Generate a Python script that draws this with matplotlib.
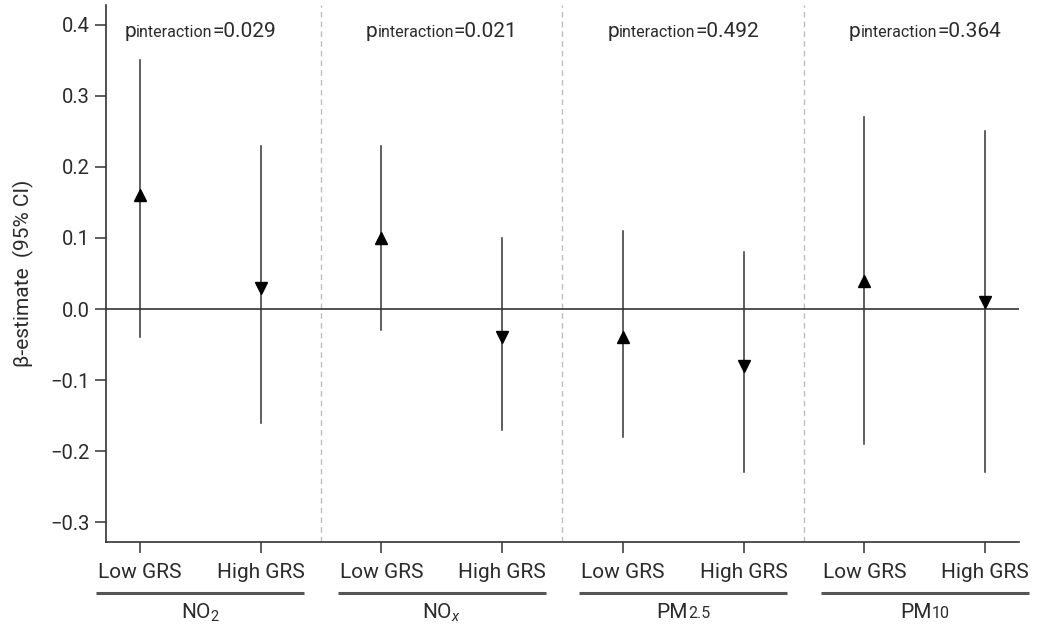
import numpy as np
import matplotlib
matplotlib.use("Agg")
import matplotlib.pyplot as plt
from matplotlib.offsetbox import TextArea, HPacker, AnnotationBbox

plt.rcParams["font.family"] = ["Roboto", "DejaVu Sans"]
plt.rcParams["mathtext.fontset"] = "custom"
plt.rcParams["mathtext.rm"] = "Roboto"
plt.rcParams["mathtext.it"] = "Roboto:italic"

# Data
pollutants = ["NO2", "NOx", "PM2.5", "PM10"]
grs_groups = ["Low GRS", "High GRS"]
estimate = [0.16, 0.03, 0.10, -0.04, -0.04, -0.08, 0.04, 0.01]
ci_low = [-0.04, -0.16, -0.03, -0.17, -0.18, -0.23, -0.19, -0.23]
ci_high = [0.35, 0.23, 0.23, 0.10, 0.11, 0.08, 0.27, 0.25]
p_interaction = ["0.029", "0.021", "0.492", "0.364"]

txt_col = "#2b2b2b"
line_col = "#333333"

fig = plt.figure(figsize=(10.43, 6.27), dpi=100)
ax = fig.add_axes([0.1016, 0.1356, 0.8754, 0.8564])

x = np.arange(len(estimate))
for i in x:
    ax.plot([i, i], [ci_low[i], ci_high[i]], color=line_col, lw=1.1, zorder=3)
    mk = "^" if i % 2 == 0 else "v"
    ax.plot(i, estimate[i], marker=mk, color="black", ms=8.5, zorder=4, ls="none")

ax.axhline(0, color=line_col, lw=1.2, zorder=2)
for d in [1.5, 3.5, 5.5]:
    ax.axvline(d, color="#bdbdbd", lw=1.0, ls=(0, (4, 3)), zorder=1)

ax.set_xlim(-0.28, 7.28)
ax.set_ylim(-0.328, 0.428)
ax.set_yticks([-0.3, -0.2, -0.1, 0.0, 0.1, 0.2, 0.3, 0.4])
ax.set_yticklabels([f"{v:.1f}".replace("-", "\u2212") for v in ax.get_yticks()])
ax.set_xticks(x)
ax.set_xticklabels(grs_groups * len(pollutants))

for s in ["top", "right"]:
    ax.spines[s].set_visible(False)
for s in ["left", "bottom"]:
    ax.spines[s].set_color(line_col)
    ax.spines[s].set_linewidth(1.2)

ax.tick_params(axis="both", colors=line_col, labelcolor=txt_col, labelsize=14.5,
               length=8, width=1.1, direction="out")
ax.tick_params(axis="x", pad=7, labelsize=15)
ax.set_ylabel("\u03b2-estimate  (95% CI)", fontsize=15, color=txt_col, labelpad=12)


def mixed_text(parts, xy, coords):
    boxes = [TextArea(t, textprops=dict(fontsize=fs, color=txt_col)) for t, fs in parts]
    pack = HPacker(children=boxes, align="baseline", pad=0, sep=0)
    ab = AnnotationBbox(pack, xy, xycoords=coords, frameon=False,
                        box_alignment=(0.5, 0.5), annotation_clip=False)
    ax.add_artist(ab)


trans = ax.get_xaxis_transform()
for g, p in enumerate(p_interaction):
    cx = 2 * g + 0.5
    mixed_text([("p", 15), ("interaction", 11.5), ("=" + p, 15)], (cx, 0.391), "data")

# group underline and labels below the axis
for g, name in enumerate(pollutants):
    x0, x1 = 2 * g - 0.36, 2 * g + 1.36
    ax.plot([x0, x1], [-0.095, -0.095], transform=trans, color="#555555",
            lw=2.2, clip_on=False, solid_capstyle="butt")
    cx = 2 * g + 0.5
    if name == "NO2":
        ax.text(cx, -0.132, r"NO$_\mathregular{2}$", transform=trans, ha="center",
                va="center", fontsize=15, color=txt_col)
    elif name == "NOx":
        ax.text(cx, -0.132, r"NO$_{x}$", transform=trans, ha="center",
                va="center", fontsize=15, color=txt_col)
    else:
        mixed_text([("PM", 15), (name[2:], 11.5)], (cx, -0.132), trans)

fig.savefig("out.png", dpi=100)
